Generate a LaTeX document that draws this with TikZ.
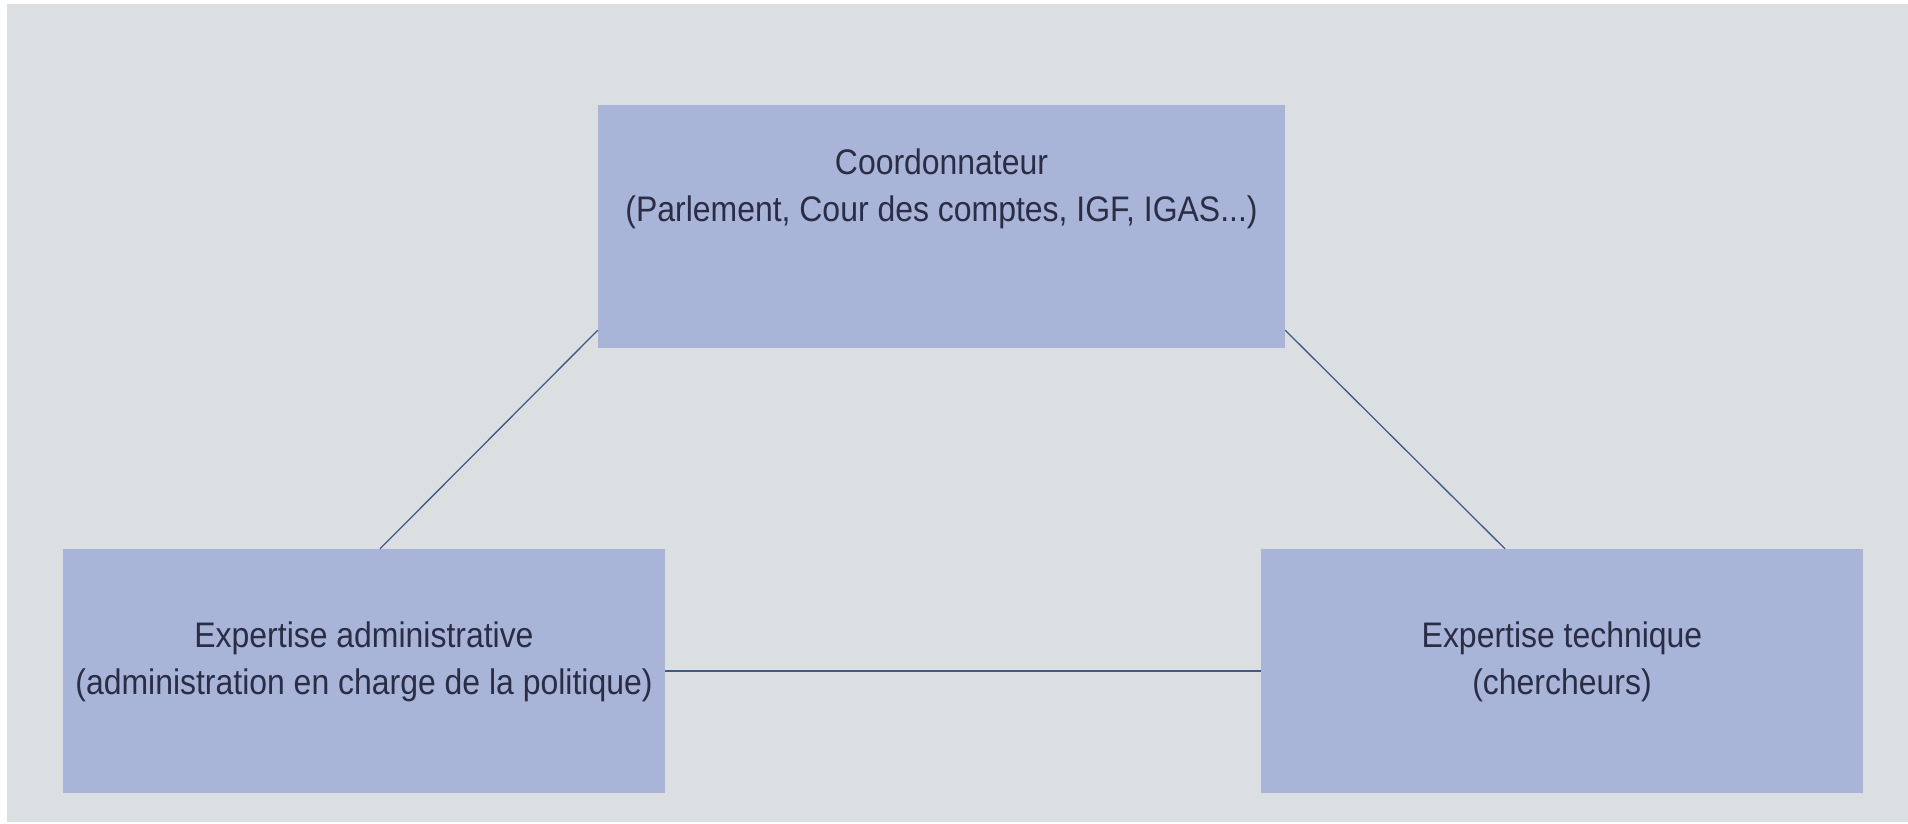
\documentclass[tikz,border=0pt]{standalone}
\usepackage{fontspec}
\setmainfont{Liberation Sans}[FakeStretch=0.9]
\definecolor{bgc}{HTML}{DCDFE2}
\definecolor{boxc}{HTML}{A9B4D9}
\definecolor{linec}{HTML}{3E5B87}
\definecolor{txtc}{HTML}{2A2D44}
\begin{document}
\begin{tikzpicture}[x=1pt,y=-1pt,
  box/.style={draw=none,fill=boxc,rectangle,inner sep=0pt},
  lbl/.style={text=txtc,align=center,font=\fontsize{35.5}{47}\selectfont,inner sep=0pt},
  conn/.style={draw=linec,line width=1.3pt}]
\useasboundingbox (0,0) rectangle (1908,823);
\fill[white] (0,0) rectangle (1908,823);
\fill[bgc] (7,4) rectangle (1908,822);
\node[box,minimum width=687pt,minimum height=243pt] (top) at (941.5,226.5) {};
\node[box,minimum width=602pt,minimum height=244pt] (left) at (364,671) {};
\node[box,minimum width=602pt,minimum height=244pt] (right) at (1562,671) {};
\node[lbl] (ttop) at (941.5,189) {Coordonnateur\\(Parlement, Cour des comptes, IGF, IGAS...)};
\node[lbl] (tleft) at (364,662) {Expertise administrative\\(administration en charge de la politique)};
\node[lbl] (tright) at (1562,662) {Expertise technique\\(chercheurs)};
\draw[conn] ([yshift=18pt]top.south west) -- ([xshift=16pt]left.north);
\draw[conn] ([yshift=18pt]top.south east) -- ([xshift=-57pt]right.north);
\draw[conn] (left.east) -- (right.west);
\end{tikzpicture}
\end{document}
